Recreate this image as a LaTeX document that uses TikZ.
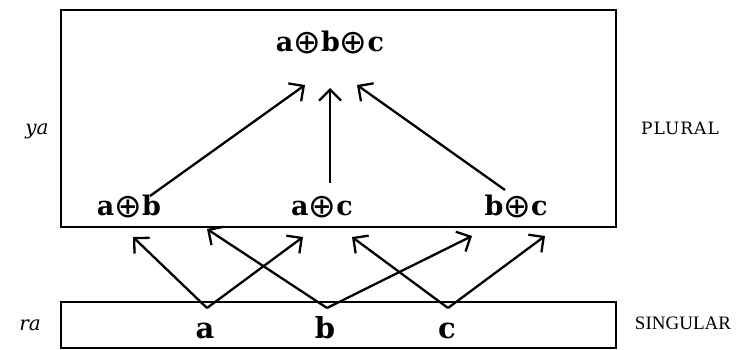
\documentclass[tikz,border=0pt]{standalone}
\usepackage{fontspec}
\setmainfont{DejaVu Serif}
\newfontfamily\symf{DejaVu Sans}
\newfontfamily\capsf[LetterSpace=6]{DejaVu Serif}
\newfontfamily\capsg{Liberation Serif}
\usetikzlibrary{arrows.meta}
\newcommand{\op}{{\symf\mdseries\fontsize{33}{33}\selectfont\raisebox{-2pt}{\char"2295}}}
\tikzset{
  box/.style={draw, line width=2.8pt},
  lab/.style={font=\fontsize{27}{30}\selectfont\bfseries, inner sep=0pt, anchor=base},
  single/.style={font=\fontsize{29}{32}\selectfont\bfseries, inner sep=0pt, anchor=base},
  side/.style={font=\fontsize{20}{24}\selectfont\itshape, inner sep=0pt, anchor=base},
  level/.style={font=\capsf\fontsize{17}{20}\selectfont, inner sep=0pt, anchor=base},
  levelb/.style={font=\capsg\fontsize{19}{22}\selectfont, inner sep=0pt, anchor=base},
  arr/.style={line width=2.3pt, -{Straight Barb[length=11pt,width=22pt,line width=2.3pt]}},
}
\begin{document}
\begin{tikzpicture}[x=1pt,y=-1pt]
\useasboundingbox (0,0) rectangle (736,350);
% boxes
\draw[box] (61,10) rectangle (616,227);
\draw[box] (61,302) rectangle (616,348);
% labels
\node[lab] (abc) at (330,52) {a\op b\op c};
\node[lab] (ab) at (129,215) {a\op b};
\node[lab] (ac) at (322,215) {a\op c};
\node[lab] (bc) at (516,215) {b\op c};
\node[single] (a) at (205,338) {a};
\node[single] (b) at (325,338) {b};
\node[single] (c) at (447,338) {c};
\node[side] (ya) at (37,135) {ya};
\node[side] (ra) at (30,330) {ra};
\node[level] (plural) at (680,135) {PLURAL};
\node[levelb] (singular) at (683,329) {SINGULAR};
% arrow end points
\coordinate (abS) at (150,196);
\coordinate (acS) at (330,183);
\coordinate (bcS) at (505,190);
\coordinate (t1) at (305,85);
\coordinate (t2) at (330,88);
\coordinate (t3) at (357,85);
\coordinate (aS) at (207,308);
\coordinate (bS) at (327,308);
\coordinate (cS) at (448,308);
\coordinate (e1) at (133,237);
\coordinate (e2) at (207,229);
\coordinate (e3) at (303,237);
\coordinate (e4) at (352,237);
\coordinate (e5) at (472,236);
\coordinate (e6) at (545,236);
% arrows
\draw[arr] (abS) -- (t1);
\draw[arr] (acS) -- (t2);
\draw[arr] (bcS) -- (t3);
\draw[arr] (aS) -- (e1);
\draw[arr] (aS) -- (e3);
\draw[arr] (bS) -- (e2);
\draw[arr] (bS) -- (e5);
\draw[arr] (cS) -- (e4);
\draw[arr] (cS) -- (e6);
\end{tikzpicture}
\end{document}
